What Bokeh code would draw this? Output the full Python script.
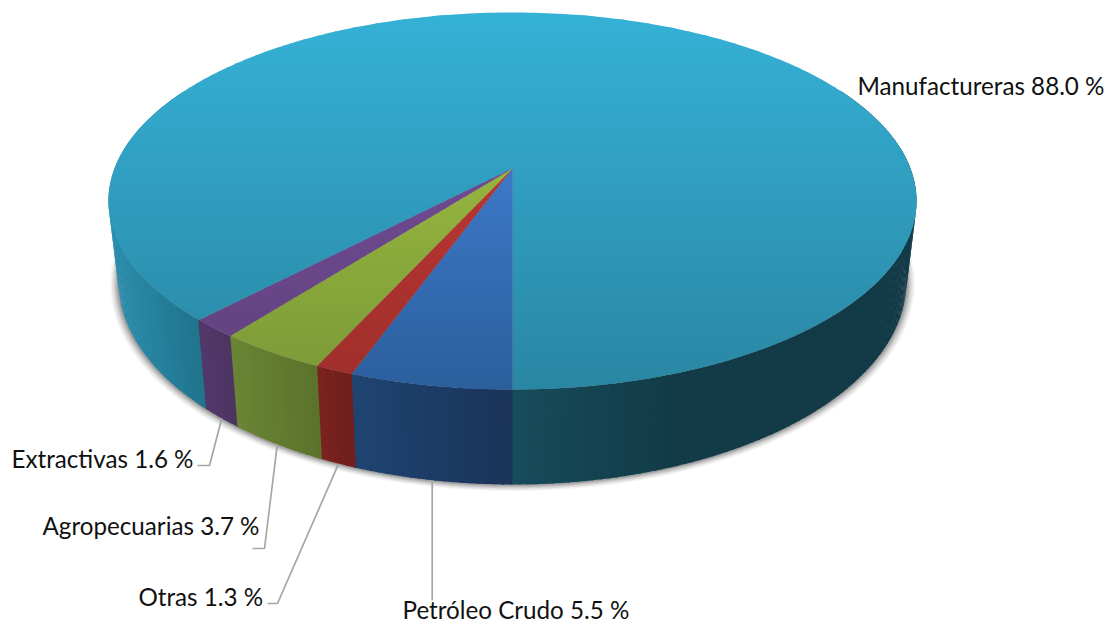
import numpy as np
from bokeh.plotting import figure
from bokeh.embed import file_html
from bokeh.resources import INLINE
from bokeh.core.properties import value

# ---- data (clockwise from the front of the pie)
categories = ["Petróleo Crudo", "Otras", "Agropecuarias", "Extractivas", "Manufactureras"]
shares = [5.5, 1.3, 3.7, 1.6, 88.0]
labels = ["Petróleo Crudo 5.5 %", "Otras 1.3 %", "Agropecuarias 3.7 %", "Extractivas 1.6 %", "Manufactureras 88.0 %"]

# ---- colours: top face (upper end, lower end of gradient), wall (left, right)
top_hi = ["#4a8ae6", "#cc3c36", "#a8c944", "#7a4ea2", "#35b1d6"]
top_lo = ["#2b5e9c", "#9e2e2b", "#7a9837", "#60427c", "#2a86a3"]
wall_lo = ["#1f4472", "#7a221f", "#6a8535", "#533869", "#2a8cab"]
wall_hi = ["#1b3358", "#6f1f1c", "#5b722b", "#4c3362", "#1f7189"]
wall_right = ["#174c5a", "#123a47"]

# ---- layout (pixels of the 1113x624 page)
W, H = 1113, 624
OX, OY = 0, 0
CX = 512
K = 0.1724
TOP = dict(R=398.0, S=182.9, hy=168.0)
BOT = dict(R=388.0, S=197.0, hy=246.0)
FONT = "Lato"
FS = "24.2px"
label_xy = [(402, 609), (138, 596), (42, 525), (11, 458), (857, 85)]
# elbow of each leader: end beside the label, knee
leader_ends = [None, (267, 603), (252, 548), (197, 465), None]
leader_knee = [(None, 600), (277, 603), (264, 548), (209, 465), None]


def proj(t, face):
    """t: angle clockwise from the front of the disc, in radians."""
    u, v = -np.sin(t), np.cos(t)
    d = 1 - K * v
    return CX + face["R"] * u / d, face["hy"] + face["S"] * v / d


def hexrgb(h):
    return np.array([int(h[i:i + 2], 16) for i in (1, 3, 5)], float)


def mix(a, b, f):
    c = hexrgb(a) * (1 - f) + hexrgb(b) * f
    return "#%02x%02x%02x" % tuple(int(round(x)) for x in c)


def clip_band(xs, ys, y0, y1):
    def clip(pts, inside, yb):
        out = []
        for i in range(len(pts)):
            a, b = pts[i], pts[(i + 1) % len(pts)]
            ia, ib = inside(a[1]), inside(b[1])
            if ia:
                out.append(a)
            if ia != ib:
                f = (yb - a[1]) / (b[1] - a[1])
                out.append((a[0] + f * (b[0] - a[0]), yb))
        return out
    pts = list(zip(xs, ys))
    pts = clip(pts, lambda y: y >= y0, y0)
    if pts:
        pts = clip(pts, lambda y: y <= y1, y1)
    return pts


p = figure(width=W, height=H, x_range=(OX, OX + W), y_range=(OY + H, OY),
           output_backend="svg", toolbar_location=None, min_border=0)
p.axis.visible = False
p.grid.visible = False
p.outline_line_color = None
p.background_fill_color = "white"
p.border_fill_color = "white"

frac = np.array(shares, float) / sum(shares)
edges = np.concatenate([[0], np.cumsum(frac)]) * 2 * np.pi

# shadow: widened outlines of the lower rim
ts = np.linspace(0, 2 * np.pi, 361)
for e, a in zip([8, 6.5, 5, 3.8, 2.6, 1.5], [.06, .07, .08, .1, .12, .14]):
    sh = dict(R=BOT["R"] + e, S=BOT["S"] + e * .45, hy=BOT["hy"] + e * .25)
    x, y = proj(ts, sh)
    p.patch(list(x), list(y), fill_color="#303030", fill_alpha=a, line_color=None)

# walls: narrow quads, shaded along their angle
order = [4, 0, 1, 2, 3]
wx, wy, wc = [], [], []
for i in order:
    a0, a1 = edges[i], edges[i + 1]
    n = max(4, int((a1 - a0) / np.radians(1.0)))
    tt = np.linspace(a0, a1, n + 1)
    for j in range(n):
        t0, t1 = tt[j], tt[j + 1]
        if np.cos((t0 + t1) / 2) < -0.45:
            continue
        x0, y0 = proj(t0, TOP)
        x1, y1 = proj(t1 + 0.004, TOP)
        x2, y2 = proj(t1 + 0.004, BOT)
        x3, y3 = proj(t0, BOT)
        xm = (x0 + x1) / 2
        if i == 4 and xm > CX:
            f = min(1, (xm - CX) / 170)
            c = mix(wall_right[0], wall_right[1], f)
        elif i == 4:
            f = min(1, max(0, (xm - 115) / 90))
            c = mix(wall_lo[i], wall_hi[i], f)
        else:
            xa, xb = proj(a1, TOP)[0], proj(a0, TOP)[0]
            c = mix(wall_lo[i], wall_hi[i], (xm - xa) / (xb - xa))
        wx.append([x0, x1, x2, x3])
        wy.append([y0, y1, y2, y3])
        wc.append(c)
p.patches(wx, wy, fill_color=wc, line_color=None)

# top face: each slice cut in horizontal bands for its gradient
y_top, y_bot = 12.0, 389.0
bands = np.arange(y_top - 1, y_bot + 2, 4.0)
for i in order:
    n = max(6, int((edges[i + 1] - edges[i]) / np.radians(1.0)))
    tt = np.linspace(edges[i], edges[i + 1], n + 1)
    ax, ay = proj(tt, TOP)
    xs = [float(CX)] + list(ax)
    ys = [TOP["hy"]] + list(ay)
    bx, by, bc = [], [], []
    for y0 in bands:
        pts = clip_band(xs, ys, y0, y0 + 5.0)
        if len(pts) < 3:
            continue
        bx.append([q[0] for q in pts])
        by.append([q[1] for q in pts])
        bc.append(mix(top_hi[i], top_lo[i], (y0 - y_top) / (y_bot - y_top)))
    p.patches(bx, by, fill_color=bc, line_color=None)

# leader lines from the lower rim to the labels
for i in range(4):
    mid = (edges[i] + edges[i + 1]) / 2
    x0, y0 = proj(mid, BOT)
    knee = leader_knee[i]
    if leader_ends[i] is None:
        lx, ly = [x0, x0], [y0, knee[1]]
    else:
        lx = [x0, knee[0], leader_ends[i][0]]
        ly = [y0, knee[1], leader_ends[i][1]]
    p.line(lx, ly, line_color="#a6a6a6", line_width=1.7)

p.text([q[0] for q in label_xy], [q[1] for q in label_xy], text=labels,
       text_font=value(FONT), text_font_size=value(FS), text_color="#111111",
       text_align="left", text_baseline="middle", text_line_height=1.0)

open("out.html", "w").write(file_html(p, INLINE))
